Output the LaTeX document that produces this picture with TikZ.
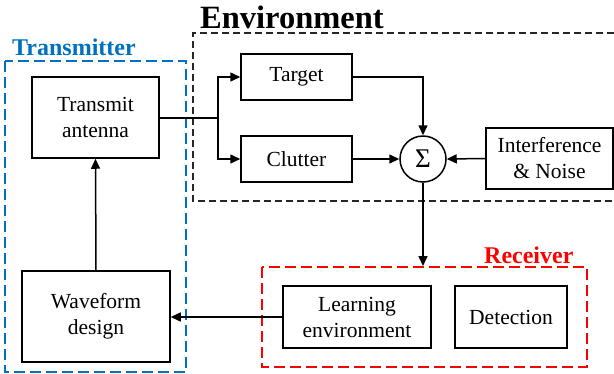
\documentclass[tikz,border=0pt]{standalone}
\usepackage{fontspec}
\setmainfont{Liberation Serif}
\usepackage{xcolor}
\usetikzlibrary{arrows.meta}
\usetikzlibrary{positioning}

\definecolor{txBlue}{RGB}{0,112,192}
\definecolor{rxRed}{RGB}{255,0,0}

\tikzset{
  blockBox/.style 2 args={
    draw, line width=1.5pt, rectangle,
    minimum width=#1, minimum height=#2,
    align=center, inner sep=2pt,
    font=\fontsize{21.5}{26}\selectfont
  },
  flowArrow/.style={line width=1.5pt, -{Triangle[length=10pt,width=9pt]}},
  flowLine/.style={line width=1.5pt}
}

\begin{document}
\begin{tikzpicture}[x=1pt,y=-1pt]
\useasboundingbox (0,0) rectangle (614,373);

% --- group frames ---
\draw[black!85, line width=1.5pt, dash pattern=on 7pt off 4pt]
  (614,33) -- (193,33) -- (193,201) -- (614,201);
\draw[txBlue, line width=2.2pt, dash pattern=on 11pt off 5pt]
  (5,61) rectangle (186,372);
\draw[rxRed, line width=2.2pt, dash pattern=on 11pt off 5pt]
  (262,267) rectangle (587,367);

\node[anchor=base, font=\fontsize{32.5}{32}\selectfont\bfseries] (envLabel) at (292,28) {Environment};
\node[anchor=base west, inner sep=0pt, text=txBlue, font=\fontsize{24}{24}\selectfont\bfseries] (txLabel) at (12,55) {Transmitter};
\node[anchor=base west, inner sep=0pt, text=rxRed, font=\fontsize{24}{24}\selectfont\bfseries] (rxLabel) at (484,263) {Receiver};

% --- blocks ---
\node[blockBox={127pt}{81pt}] (antenna) at (95.5,117.5) {Transmit\\antenna};
\node[blockBox={148pt}{91pt}] (waveform) at (96,316.5) {Waveform\\design};
\node[blockBox={111pt}{46pt}] (target) at (296.5,77) {Target};
\node[blockBox={111pt}{46pt}] (clutter) at (296.5,159) {Clutter};
\node[draw, line width=1.5pt, circle, minimum size=46pt, inner sep=0pt,
  font=\fontsize{27}{27}\selectfont] (sum) at (423,159) {Σ};
\node[blockBox={127pt}{61pt}] (interf) at (549.5,158.5) {Interference\\\& Noise};
\node[blockBox={148pt}{62pt}] (learning) at (357,317) {Learning\\environment};
\node[blockBox={112pt}{62pt}] (detection) at (511,317) {Detection};

\coordinate (split) at (218,118);
\coordinate (rxTop) at (423,266);

% --- connectors ---
\draw[flowLine] (antenna.east |- split) -- (split);
\draw[flowArrow] (split) |- (target.west);
\draw[flowArrow] (split) |- (clutter.west);
\draw[flowArrow] (target.east) -| (sum.north);
\draw[flowArrow] (clutter.east) -- (sum.west);
\draw[flowArrow] (interf.west) -- (sum.east);
\draw[flowArrow] (sum.south) -- (rxTop);
\draw[flowArrow] (learning.west) -- (waveform.east |- learning.west);
\draw[flowArrow] (waveform.north) -- (antenna.south);

\end{tikzpicture}
\end{document}
